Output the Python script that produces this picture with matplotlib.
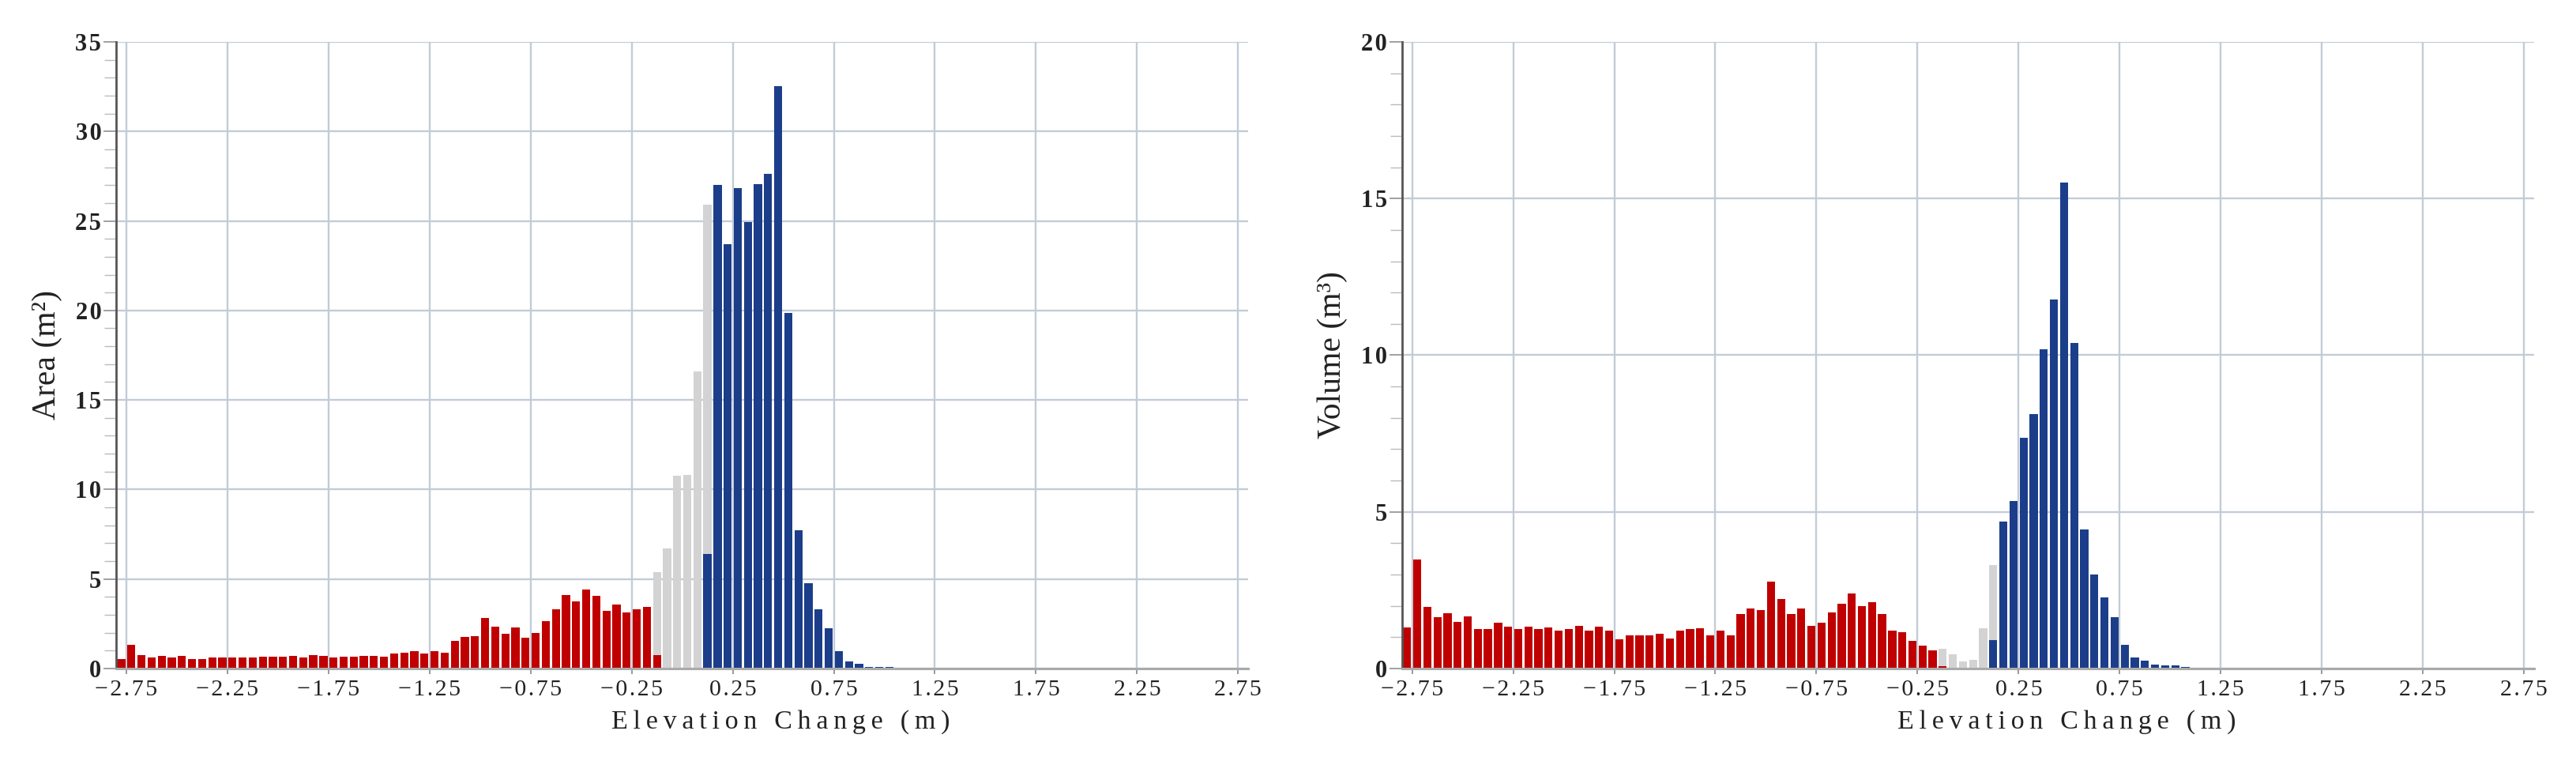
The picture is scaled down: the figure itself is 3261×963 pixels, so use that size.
import matplotlib
matplotlib.use("Agg")
import matplotlib.pyplot as plt
from matplotlib.ticker import MultipleLocator, FuncFormatter
import numpy as np

# ---------------- data ----------------
bin_width = 0.05
# lower edges of the histogram bins (m)
red_edges = [-2.80, -2.75, -2.70, -2.65, -2.60, -2.55, -2.50, -2.45, -2.40, -2.35,
             -2.30, -2.25, -2.20, -2.15, -2.10, -2.05, -2.00, -1.95, -1.90, -1.85,
             -1.80, -1.75, -1.70, -1.65, -1.60, -1.55, -1.50, -1.45, -1.40, -1.35,
             -1.30, -1.25, -1.20, -1.15, -1.10, -1.05, -1.00, -0.95, -0.90, -0.85,
             -0.80, -0.75, -0.70, -0.65, -0.60, -0.55, -0.50, -0.45, -0.40, -0.35,
             -0.30, -0.25, -0.20, -0.15]
gray_edges = [-0.15, -0.10, -0.05, 0.00, 0.05, 0.10]
blue_edges = [0.10, 0.15, 0.20, 0.25, 0.30, 0.35, 0.40, 0.45, 0.50, 0.55,
              0.60, 0.65, 0.70, 0.75, 0.80, 0.85, 0.90, 0.95, 1.00, 1.05]

area_red = [0.51, 1.31, 0.73, 0.61, 0.69, 0.61, 0.69, 0.54, 0.54, 0.63,
            0.61, 0.61, 0.63, 0.63, 0.64, 0.64, 0.64, 0.71, 0.63, 0.73,
            0.69, 0.60, 0.64, 0.64, 0.69, 0.71, 0.64, 0.86, 0.89, 0.95,
            0.83, 0.98, 0.89, 1.55, 1.76, 1.82, 2.83, 2.33, 1.92, 2.29,
            1.72, 1.98, 2.65, 3.29, 4.11, 3.73, 4.43, 4.05, 3.21, 3.56,
            3.12, 3.29, 3.43, 0.74]
area_gray = [5.38, 6.70, 10.75, 10.80, 16.59, 25.92]
area_blue = [6.39, 27.01, 23.71, 26.83, 24.93, 27.06, 27.64, 32.54, 19.88, 7.74,
             4.77, 3.32, 2.25, 0.98, 0.40, 0.28, 0.07, 0.07, 0.07, 0.06]

vol_red = [1.32, 3.47, 1.96, 1.63, 1.77, 1.50, 1.67, 1.27, 1.27, 1.46,
           1.34, 1.27, 1.34, 1.27, 1.30, 1.21, 1.27, 1.37, 1.20, 1.33,
           1.20, 0.94, 1.07, 1.07, 1.07, 1.11, 0.97, 1.22, 1.27, 1.28,
           1.06, 1.21, 1.06, 1.73, 1.92, 1.86, 2.78, 2.21, 1.73, 1.91,
           1.35, 1.47, 1.78, 2.06, 2.40, 1.98, 2.12, 1.75, 1.22, 1.16,
           0.89, 0.74, 0.59, 0.08]
vol_gray = [0.64, 0.45, 0.23, 0.27, 1.29, 3.31]
vol_blue = [0.92, 4.70, 5.34, 7.37, 8.11, 10.19, 11.78, 15.52, 10.39, 4.45,
            3.01, 2.28, 1.63, 0.76, 0.35, 0.26, 0.13, 0.11, 0.10, 0.04]

x_ticks = [-2.75, -2.25, -1.75, -1.25, -0.75, -0.25, 0.25, 0.75, 1.25, 1.75, 2.25, 2.75]
x_label = "Elevation Change (m)"
panels = [
    dict(red=area_red, gray=area_gray, blue=area_blue, ylabel="Area (m²)", ymax=35),
    dict(red=vol_red, gray=vol_gray, blue=vol_blue, ylabel="Volume (m³)", ymax=20),
]

# ---------------- style ----------------
RED = "#c00000"
BLUE = "#1c3e8a"
GRAY = "#d3d3d3"
GRID = "#c2ccd8"
FONT = ["Liberation Serif", "DejaVu Serif"]
plt.rcParams["font.family"] = FONT
HS = "\u200a"  # hair space for letter spacing
TS = "\u2009"  # thin space


def spaced(s, sep=HS):
    return sep.join(s)


fig = plt.figure(figsize=(32.62, 9.63), dpi=100)
rects = [[0.0451, 0.1215, 0.4393, 0.8235], [0.5441, 0.1215, 0.4393, 0.8235]]

for rect, p in zip(rects, panels):
    ax = fig.add_axes(rect)
    bw = bin_width * 0.8
    gx = np.array(gray_edges) + bin_width / 2
    rx = np.array(red_edges) + bin_width / 2
    bx = np.array(blue_edges) + bin_width / 2
    ax.bar(gx, p["gray"], width=bw, color=GRAY, linewidth=0, zorder=3)
    ax.bar(rx, p["red"], width=bw, color=RED, linewidth=0, zorder=4)
    ax.bar(bx, p["blue"], width=bw, color=BLUE, linewidth=0, zorder=4)

    ax.set_xlim(-2.8, 2.8)
    ax.set_ylim(0, p["ymax"])
    ax.set_xticks(x_ticks)
    ax.xaxis.set_major_formatter(FuncFormatter(lambda v, pos: spaced(f"{v:.2f}".replace("-", "\u2212"))))
    ax.yaxis.set_major_locator(MultipleLocator(5))
    ax.yaxis.set_minor_locator(MultipleLocator(1))
    ax.yaxis.set_major_formatter(FuncFormatter(lambda v, pos: spaced(f"{v:.0f}")))

    ax.grid(True, which="major", color=GRID, linewidth=1.7, zorder=0)
    ax.set_axisbelow(True)
    for s in ("top", "right"):
        ax.spines[s].set_visible(False)
    ax.spines["left"].set_color("#555555")
    ax.spines["left"].set_linewidth(2.0)
    ax.spines["bottom"].set_color("#aaaaaa")
    ax.spines["bottom"].set_linewidth(2.2)
    ax.spines["left"].set_zorder(6)
    ax.spines["bottom"].set_zorder(6)

    ax.tick_params(axis="x", direction="out", length=5, width=1.2, color="#888888",
                   labelsize=21.5, pad=5, labelcolor="#222222")
    ax.tick_params(axis="y", which="major", direction="out", length=11.5, width=1.3,
                   color="#999999", labelsize=22, pad=2, labelcolor="#222222")
    ax.tick_params(axis="y", which="minor", direction="out", length=11, width=1.0,
                   color="#bbbbbb")
    for lab in ax.get_yticklabels():
        lab.set_fontweight("bold")

    ax.set_xlabel(spaced(x_label, TS), fontsize=24.5, color="#222222")
    ax.xaxis.set_label_coords(0.587, -0.066)
    ax.set_ylabel(p["ylabel"], fontsize=30, labelpad=12, color="#222222")

fig.savefig("out.png", dpi=100, facecolor="white")
